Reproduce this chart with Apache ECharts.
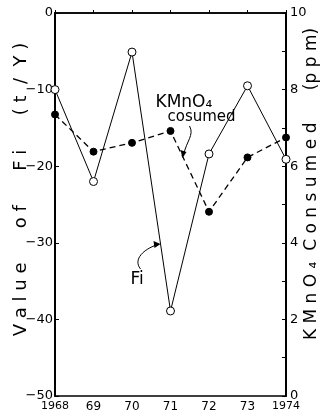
<!DOCTYPE html>
<html><head><meta charset="utf-8">
<script src="https://cdn.jsdelivr.net/npm/echarts@6/dist/echarts.min.js"></script>
<style>html,body{margin:0;padding:0;background:#fff}#c{width:321px;height:417px}</style>
</head><body><div id="c"></div>
<script>
const years = ['1968', '69', '70', '71', '72', '73', '1974'];
const fiValues = [-10, -22, -5.1, -38.9, -18.4, -9.5, -19.1];
const kmno4Values = [7.35, 6.38, 6.61, 6.92, 4.81, 6.23, 6.75];
const fiTicks = [0, -10, -20, -30, -40, -50];
const ppmTicks = [0, 2, 4, 6, 8, 10];

const FONT = 'DejaVu Sans';
const chart = echarts.init(document.getElementById('c'), null, {renderer: 'canvas'});
const axisLine = {show: true, lineStyle: {color: '#000', width: 2}};
chart.setOption({
  animation: false,
  backgroundColor: '#fff',
  grid: {left: 55, right: 35, top: 13, bottom: 21, show: true, borderColor: '#000', borderWidth: 1.5,
    containLabel: false, outerBoundsMode: 'none'},
  xAxis: {
    type: 'category', data: years, boundaryGap: false,
    axisLine: {show: true, lineStyle: {color: '#000', width: 1.5}},
    axisTick: {inside: true, length: 3, interval: 0, lineStyle: {color: '#000'}},
    axisLabel: {color: '#000', fontFamily: FONT, fontSize: 12, margin: 5, interval: 0,
      rich: {s: {fontFamily: FONT, fontSize: 11}},
      formatter: v => v.length > 2 ? '{s|' + v + '}' : v},
    splitLine: {show: false}
  },
  yAxis: [{
    type: 'value', min: -50, max: 0, interval: 10, position: 'left',
    axisLine: axisLine,
    axisTick: {show: true, inside: true, length: 4, lineStyle: {color: '#000'}},
    axisLabel: {color: '#000', fontFamily: FONT, fontSize: 13, margin: 2,
      formatter: v => fiTicks.includes(v) ? String(v).replace('-', '\u2212') : ''},
    splitLine: {show: false},
    name: 'V a l u e      o f      F i      ( t  /  Y )', nameLocation: 'middle', nameGap: 25, nameRotate: 90,
    nameMoveOverlap: false,
    nameTextStyle: {color: '#000', fontFamily: FONT, fontSize: 18, padding: [0, 0, 0, 30]}
  }, {
    type: 'value', min: 0, max: 10, interval: 1, position: 'right',
    axisLine: axisLine,
    axisTick: {show: true, inside: true, length: 4, lineStyle: {color: '#000'}},
    axisLabel: {color: '#000', fontFamily: FONT, fontSize: 13, margin: 4,
      formatter: v => ppmTicks.includes(v) ? String(v) : ''},
    splitLine: {show: false},
    name: 'K M n O \u2084  C o n s u m e d      (p p m)', nameLocation: 'middle', nameGap: 17, nameRotate: 90,
    nameMoveOverlap: false,
    nameTextStyle: {color: '#000', fontFamily: FONT, fontSize: 17, padding: [0, 0, 0, 41]}
  }],
  series: [{
    name: 'Fi', type: 'line', yAxisIndex: 0, data: fiValues,
    symbol: 'circle', symbolSize: 8,
    itemStyle: {color: '#fff', borderColor: '#000', borderWidth: 1},
    lineStyle: {color: '#000', width: 1}, z: 3
  }, {
    name: 'KMnO4', type: 'line', yAxisIndex: 1, data: kmno4Values,
    symbol: 'circle', symbolSize: 7,
    itemStyle: {color: '#000', borderColor: '#000', borderWidth: 1},
    lineStyle: {color: '#000', width: 1.3, type: [6, 4]}, z: 2
  }]
});

// annotations anchored to data points
const pK = chart.convertToPixel({xAxisIndex: 0, yAxisIndex: 1}, [3, kmno4Values[3]]);
const pF = chart.convertToPixel({xAxisIndex: 0, yAxisIndex: 0}, [3, fiValues[3]]);
const kx = pK[0], ky = pK[1];
const fx = pF[0], fy = pF[1];
chart.setOption({
  graphic: [
    {type: 'text', left: kx - 15, top: ky - 37, style: {text: 'KMnO\u2084', font: '17px "DejaVu Sans"', fill: '#000'}},
    {type: 'text', left: kx - 3, top: ky - 21, style: {text: 'cosumed', font: '15px "DejaVu Sans"', fill: '#000'}},
    {type: 'bezierCurve', shape: {x1: kx + 19, y1: ky - 5, cpx1: kx + 24, cpy1: ky + 4, cpx2: kx + 16, cpy2: ky + 10, x2: kx + 13, y2: ky + 24},
      style: {stroke: '#000', lineWidth: 1, fill: null}},
    {type: 'polygon', shape: {points: [[kx + 12, ky + 27], [kx + 10, ky + 19], [kx + 16, ky + 21]]}, style: {fill: '#000'}},
    {type: 'text', left: fx - 40, top: fy - 40, style: {text: 'Fi', font: '17px "DejaVu Sans"', fill: '#000'}},
    {type: 'bezierCurve', shape: {x1: fx - 30, y1: fy - 42, cpx1: fx - 38, cpy1: fy - 52, cpx2: fx - 26, cpy2: fy - 62, x2: fx - 14, y2: fy - 66},
      style: {stroke: '#000', lineWidth: 1, fill: null}},
    {type: 'polygon', shape: {points: [[fx - 10, fy - 67], [fx - 17, fy - 70], [fx - 16, fy - 63]]}, style: {fill: '#000'}}
  ]
});
</script></body></html>
